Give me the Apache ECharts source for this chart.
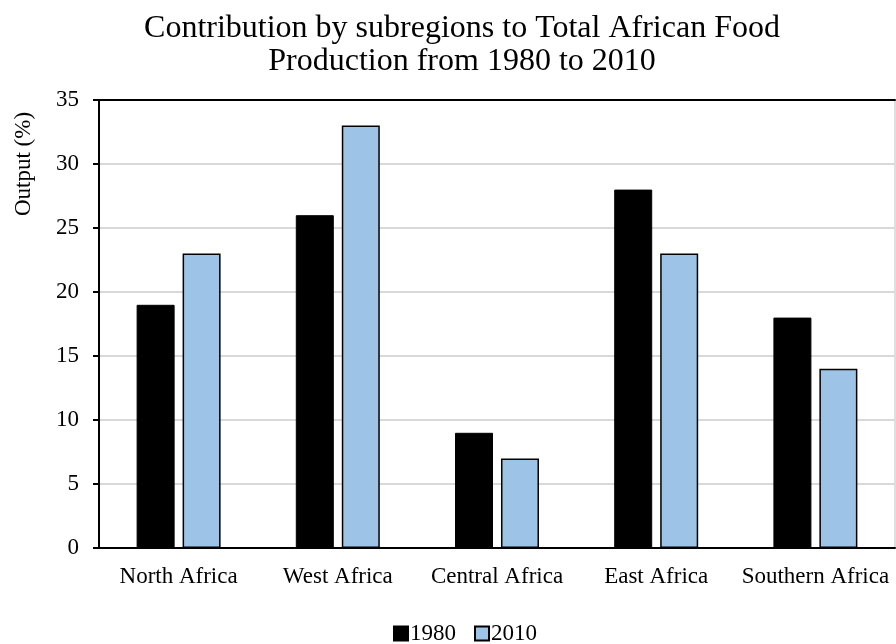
<!DOCTYPE html>
<html>
<head>
<meta charset="utf-8">
<script src="https://cdn.jsdelivr.net/npm/echarts@6/dist/echarts.min.js"></script>
<style>
  html, body { margin: 0; padding: 0; background: #fff; }
  #chart { width: 896px; height: 644px; }
</style>
</head>
<body>
<div id="chart"></div>
<script>
// Share of total African food output by subregion
const subregions = ['North Africa', 'West Africa', 'Central Africa', 'East Africa', 'Southern Africa'];
const output1980 = [19, 26, 9, 28, 18];
const output2010 = [23, 33, 7, 23, 14];
const yTicks = { min: 0, max: 35, interval: 5 };

const FONT = 'Liberation Serif';
const chart = echarts.init(document.getElementById('chart'), null, { renderer: 'canvas' });

chart.setOption({
  backgroundColor: '#fff',
  animation: false,
  textStyle: { fontFamily: FONT, color: '#000' },
  title: {
    text: 'Contribution by subregions to Total African Food\nProduction from 1980 to 2010',
    left: 457,
    top: 7,
    textAlign: 'center',
    textStyle: { fontFamily: FONT, fontSize: 32, fontWeight: 'normal', color: '#000', lineHeight: 33 }
  },
  legend: {
    top: 617,
    left: 388,
    itemWidth: 14,
    itemHeight: 14,
    itemGap: 18,
    icon: 'rect',
    textStyle: { fontFamily: FONT, fontSize: 23, color: '#000', padding: [0, 0, 0, -3] },
    data: ['1980', '2010']
  },
  grid: {
    left: 99, right: 1, top: 100, bottom: 96,
    show: true, borderColor: '#bfbfbf', borderWidth: 1,
    containLabel: false
  },
  xAxis: [{
    type: 'category',
    data: subregions,
    axisLine: { lineStyle: { color: '#000', width: 2 } },
    axisTick: { show: false },
    axisLabel: { fontFamily: FONT, fontSize: 23, color: '#000', margin: 17, interval: 0 }
  }, {
    type: 'category',
    position: 'top',
    data: subregions,
    axisLine: { lineStyle: { color: '#000', width: 2 } },
    axisTick: { show: false },
    axisLabel: { show: false }
  }],
  yAxis: {
    type: 'value',
    min: yTicks.min, max: yTicks.max, interval: yTicks.interval,
    axisLine: { show: true, lineStyle: { color: '#000', width: 2 } },
    axisTick: { show: true, length: 6, lineStyle: { color: '#000', width: 2 } },
    axisLabel: { fontFamily: FONT, fontSize: 23, color: '#000', margin: 20 },
    splitLine: { show: true, lineStyle: { color: '#d9d9d9', width: 2 } }
  },
  graphic: [{
    type: 'text',
    x: 12,
    y: 164,
    rotation: Math.PI / 2,
    style: {
      text: 'Output (%)', font: '23px "Liberation Serif"', fill: '#000',
      align: 'center', verticalAlign: 'top'
    }
  }],
  series: [{
    name: '1980',
    type: 'bar',
    data: output1980,
    barWidth: 38,
    barGap: '21%',
    itemStyle: { color: '#000', borderColor: '#000', borderWidth: 1 }
  }, {
    name: '2010',
    type: 'bar',
    data: output2010,
    barWidth: 38,
    barGap: '21%',
    itemStyle: { color: '#9dc3e6', borderColor: '#000', borderWidth: 1.5 }
  }]
});
</script>
</body>
</html>
